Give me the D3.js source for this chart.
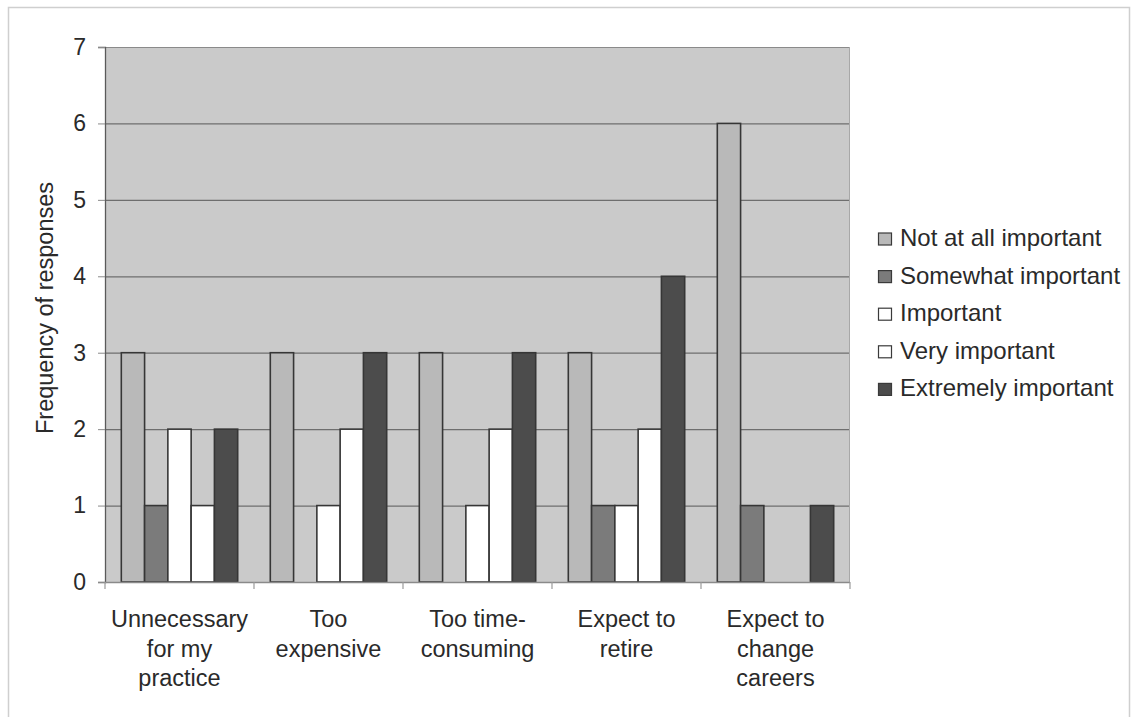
<!DOCTYPE html>
<html>
<head>
<meta charset="utf-8">
<script src="https://cdn.jsdelivr.net/npm/d3@7/dist/d3.min.js"></script>
<style>
  html, body { margin: 0; padding: 0; background: #ffffff; }
  svg { display: block; }
  text { font-family: "Liberation Sans", Arial, sans-serif; fill: #2a2a2a; }
</style>
</head>
<body>
<svg id="chart" width="1132" height="717"></svg>
<script>
// Reasons given for not pursuing the credential, by rated importance
const categories = [
  ["Unnecessary", "for my", "practice"],
  ["Too", "expensive"],
  ["Too time-", "consuming"],
  ["Expect to", "retire"],
  ["Expect to", "change", "careers"]
];
const seriesNames = [
  "Not at all important",
  "Somewhat important",
  "Important",
  "Very important",
  "Extremely important"
];
const notAtAll   = [3, 3, 3, 3, 6];
const somewhat   = [1, 0, 0, 1, 1];
const important  = [2, 1, 1, 1, 0];
const veryImp    = [1, 2, 2, 2, 0];
const extremely  = [2, 3, 3, 4, 1];
const yTicks = [0, 1, 2, 3, 4, 5, 6, 7];

const seriesValues = [notAtAll, somewhat, important, veryImp, extremely];
const fills = ["#b9b9b9", "#7b7b7b", "#ffffff", "#ffffff", "#4c4c4c"];

const svg = d3.select("#chart");

// outer chart frame
svg.append("rect")
  .attr("x", 8.5).attr("y", 7.5)
  .attr("width", 1121).attr("height", 730)
  .attr("fill", "#ffffff")
  .attr("stroke", "#cfcfcf").attr("stroke-width", 1.5);

const plot = { left: 105, right: 850, top: 47, bottom: 582 };

const x0 = d3.scaleBand()
  .domain(d3.range(categories.length))
  .range([plot.left, plot.right])
  .paddingInner(0).paddingOuter(0);

const x1 = d3.scaleBand()
  .domain(d3.range(seriesNames.length))
  .range([16.3, x0.bandwidth() - 16.3])
  .padding(0);

const y = d3.scaleLinear().domain([0, 7]).range([plot.bottom, plot.top]);

// plot area background
svg.append("rect")
  .attr("x", plot.left).attr("y", plot.top)
  .attr("width", plot.right - plot.left)
  .attr("height", plot.bottom - plot.top)
  .attr("fill", "#cacaca");

// horizontal gridlines
svg.append("g")
  .selectAll("line")
  .data(yTicks.filter(d => d > 0 && d < 7))
  .join("line")
  .attr("x1", plot.left).attr("x2", plot.right)
  .attr("y1", d => y(d) + 0.5).attr("y2", d => y(d) + 0.5)
  .attr("stroke", "#6e6e6e").attr("stroke-width", 1.2);

// top and right edges of the plot area
svg.append("line")
  .attr("x1", plot.left).attr("x2", plot.right)
  .attr("y1", plot.top + 0.5).attr("y2", plot.top + 0.5)
  .attr("stroke", "#8a8a8a").attr("stroke-width", 1.2);
svg.append("line")
  .attr("x1", plot.right - 0.5).attr("x2", plot.right - 0.5)
  .attr("y1", plot.top).attr("y2", plot.bottom)
  .attr("stroke", "#a8a8a8").attr("stroke-width", 1);

// bars
const groups = svg.append("g")
  .selectAll("g")
  .data(categories.map((c, i) => i))
  .join("g")
  .attr("transform", i => `translate(${x0(i)},0)`);

groups.selectAll("rect")
  .data(i => seriesValues.map((vals, s) => ({ s, v: vals[i] })).filter(d => d.v > 0))
  .join("rect")
  .attr("x", d => x1(d.s))
  .attr("width", x1.bandwidth())
  .attr("y", d => y(d.v))
  .attr("height", d => y(0) - y(d.v))
  .attr("fill", d => fills[d.s])
  .attr("stroke", "#363636")
  .attr("stroke-width", 1.6);

// y axis
const yAxis = d3.axisLeft(y).tickValues(yTicks).tickSize(7).tickPadding(12).tickFormat(d3.format("d"));
const gy = svg.append("g").attr("transform", `translate(${plot.left},0)`).call(yAxis);
gy.select(".domain").attr("stroke", "#5a5a5a").attr("stroke-width", 1.3);
gy.selectAll(".tick line").attr("stroke", "#8a8a8a");
gy.selectAll(".tick text")
  .attr("font-size", 23).attr("fill", "#2a2a2a")
  .style("font-family", '"Liberation Sans", Arial, sans-serif');

// x axis: baseline and category boundary ticks
svg.append("line")
  .attr("x1", plot.left).attr("x2", plot.right)
  .attr("y1", plot.bottom + 0.5).attr("y2", plot.bottom + 0.5)
  .attr("stroke", "#8a8a8a").attr("stroke-width", 1.3);
svg.append("g")
  .selectAll("line")
  .data(d3.range(categories.length + 1))
  .join("line")
  .attr("x1", i => plot.left + i * x0.step())
  .attr("x2", i => plot.left + i * x0.step())
  .attr("y1", plot.bottom).attr("y2", plot.bottom + 7)
  .attr("stroke", "#9a9a9a").attr("stroke-width", 1.2);

// category labels
const catLabels = svg.append("g")
  .selectAll("text")
  .data(categories)
  .join("text")
  .attr("text-anchor", "middle")
  .attr("font-size", 23.5)
  .attr("x", (d, i) => x0(i) + x0.bandwidth() / 2)
  .attr("y", 627);
catLabels.selectAll("tspan")
  .data(d => d)
  .join("tspan")
  .attr("x", function () { return d3.select(this.parentNode).attr("x"); })
  .attr("dy", (d, i) => i === 0 ? 0 : 29.5)
  .text(d => d);

// y axis title
svg.append("text")
  .attr("transform", "translate(53,308) rotate(-90)")
  .attr("text-anchor", "middle")
  .attr("font-size", 23.5)
  .text("Frequency of responses");

// legend
const legend = svg.append("g").attr("transform", "translate(878,246)");
const items = legend.selectAll("g")
  .data(seriesNames)
  .join("g")
  .attr("transform", (d, i) => `translate(0,${i * 37.6})`);
items.append("rect")
  .attr("x", 0.5).attr("y", -13)
  .attr("width", 13).attr("height", 12)
  .attr("fill", (d, i) => fills[i])
  .attr("stroke", "#3a3a3a").attr("stroke-width", 1.2);
items.append("text")
  .attr("x", 22).attr("y", 0)
  .attr("font-size", 24)
  .text(d => d);
</script>
</body>
</html>
